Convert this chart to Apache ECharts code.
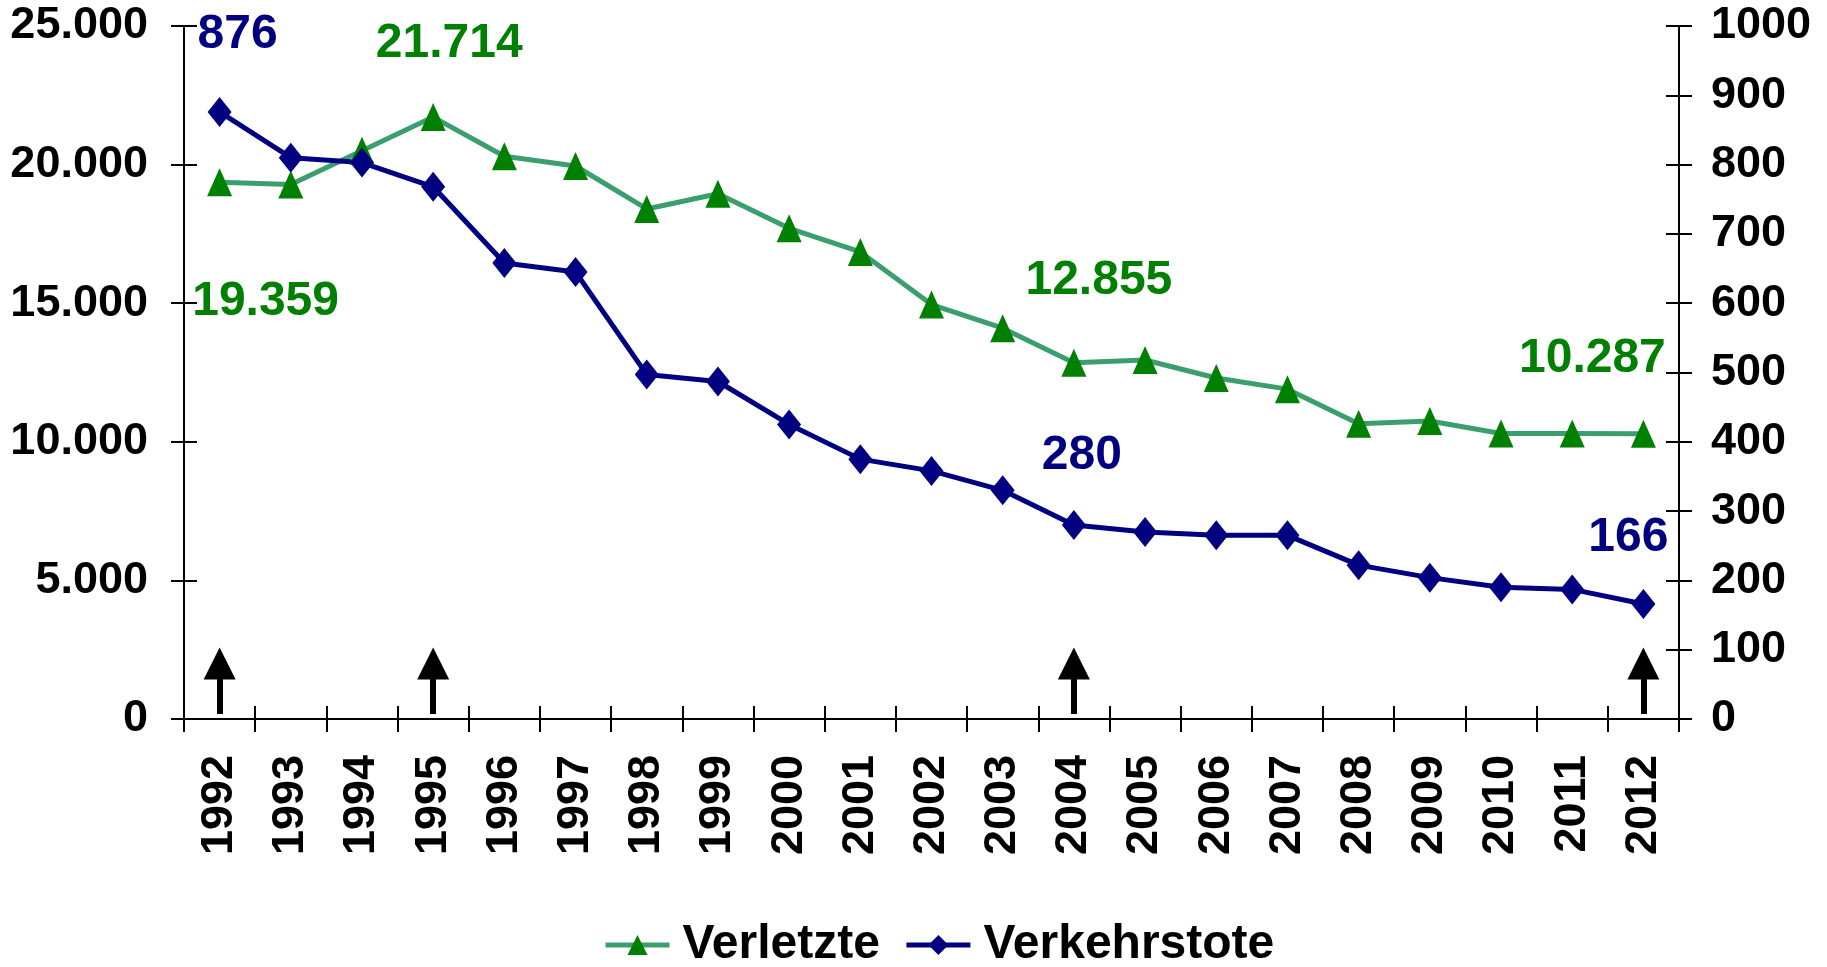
<!DOCTYPE html>
<html>
<head>
<meta charset="utf-8">
<script src="https://cdn.jsdelivr.net/npm/echarts@6/dist/echarts.min.js"></script>
<style>
  html, body { margin: 0; padding: 0; background: #fff; }
  #chart { width: 1827px; height: 967px; }
</style>
</head>
<body>
<div id="chart"></div>
<script>
// Jahre (x-Achse)
const years = ['1992', '1993', '1994', '1995', '1996', '1997', '1998', '1999', '2000', '2001', '2002',
  '2003', '2004', '2005', '2006', '2007', '2008', '2009', '2010', '2011', '2012']
// Verletzte (linke Achse)
const verletzte = [19359, 19280, 20500, 21714, 20300, 19950, 18400, 18950, 17700, 16850, 14950,
  14100, 12855, 12950, 12300, 11900, 10650, 10750, 10300, 10300, 10287]
// Verkehrstote (rechte Achse)
const verkehrstote = [876, 810, 803, 768, 658, 645, 497, 487, 425, 375, 358,
  330, 280, 270, 265, 265, 222, 204, 190, 187, 166]
// Pfeile unter den markierten Jahren
const arrowYears = ['1992', '1995', '2004', '2012']
const arrowRange = [180, 2000]

const FONT = '"Liberation Sans", Arial, sans-serif'
const GREEN_LINE = '#3a9e6e'
const GREEN = '#008000'
const NAVY = '#000080'

// Tausenderpunkt
function fmt(v) {
  return String(v).replace(/\B(?=(\d{3})+(?!\d))/g, '.')
}

// Beschriftungen: Jahr -> Versatz [dx, dy] vom Punkt
const greenLabels = { '1992': [46, 119], '1995': [16, -73], '2004': [25, -82], '2012': [-51, -75] }
const navyLabels = { '1992': [18, -77], '2004': [8, -69], '2012': [-15, -66] }

function withLabels(values, labels, color) {
  return values.map((v, i) => {
    const off = labels[years[i]]
    if (!off) return v
    return {
      value: v,
      label: {
        show: true,
        position: 'inside',
        offset: off,
        formatter: p => fmt(p.value),
        color: color,
        fontSize: 48,
        fontWeight: 'bold',
        fontFamily: FONT
      }
    }
  })
}

const axisLine = { show: true, lineStyle: { color: '#000', width: 2 } }
const tickOut = { show: true, inside: false, length: 13, lineStyle: { color: '#000', width: 2 } }
const tickIn = { show: true, inside: true, length: 13, lineStyle: { color: '#000', width: 2 } }
const labelStyle = { color: '#000', fontSize: 45, fontWeight: 'bold', fontFamily: FONT }

const chart = echarts.init(document.getElementById('chart'))

const option = {
  animation: false,
  backgroundColor: '#fff',
  grid: { left: 184, right: 148, top: 26, bottom: 248, containLabel: false },
  legend: {
    left: 598,
    top: 916,
    itemWidth: 64,
    itemHeight: 25,
    itemGap: 24,
    data: ['Verletzte', 'Verkehrstote'],
    lineStyle: { width: 5 },
    textStyle: { color: '#000', fontSize: 48, fontWeight: 'bold', fontFamily: FONT, padding: [0, 0, 0, 8] }
  },
  xAxis: [
    {
      type: 'category',
      data: years,
      position: 'bottom',
      boundaryGap: true,
      axisLine: axisLine,
      axisTick: tickOut,
      splitLine: { show: false },
      axisLabel: Object.assign({ rotate: 90, margin: 36, interval: 0 }, labelStyle)
    },
    {
      type: 'category',
      data: years,
      position: 'bottom',
      boundaryGap: true,
      axisLine: { show: false },
      axisTick: tickIn,
      axisLabel: { show: false },
      splitLine: { show: false }
    }
  ],
  yAxis: [
    {
      type: 'value', position: 'left', min: 0, max: 25000, interval: 5000,
      axisLine: axisLine, axisTick: tickOut, splitLine: { show: false },
      axisLabel: Object.assign({ margin: 36, formatter: v => fmt(v) }, labelStyle)
    },
    {
      type: 'value', position: 'right', min: 0, max: 1000, interval: 100,
      axisLine: axisLine, axisTick: tickOut, splitLine: { show: false },
      axisLabel: Object.assign({ margin: 32, formatter: v => String(v) }, labelStyle)
    },
    {
      type: 'value', position: 'left', min: 0, max: 25000, interval: 5000,
      axisLine: { show: false }, axisTick: tickIn, splitLine: { show: false }, axisLabel: { show: false }
    },
    {
      type: 'value', position: 'right', min: 0, max: 1000, interval: 100,
      axisLine: { show: false }, axisTick: tickIn, splitLine: { show: false }, axisLabel: { show: false }
    }
  ],
  series: [
    {
      name: 'Verletzte',
      type: 'line',
      xAxisIndex: 0,
      yAxisIndex: 0,
      data: withLabels(verletzte, greenLabels, GREEN),
      symbol: 'triangle',
      symbolSize: [25, 28],
      lineStyle: { color: GREEN_LINE, width: 5 },
      itemStyle: { color: GREEN },
      markLine: {
        silent: true,
        symbol: ['none', 'triangle'],
        symbolSize: 32,
        lineStyle: { color: '#000', width: 6, type: 'solid' },
        itemStyle: { color: '#000' },
        label: { show: false },
        emphasis: { disabled: true },
        data: arrowYears.map(y => [{ coord: [y, arrowRange[0]] }, { coord: [y, arrowRange[1]] }])
      }
    },
    {
      name: 'Verkehrstote',
      type: 'line',
      xAxisIndex: 0,
      yAxisIndex: 1,
      data: withLabels(verkehrstote, navyLabels, NAVY),
      symbol: 'diamond',
      symbolSize: [24, 30],
      lineStyle: { color: NAVY, width: 5 },
      itemStyle: { color: NAVY }
    }
  ]
}

chart.setOption(option)
</script>
</body>
</html>
